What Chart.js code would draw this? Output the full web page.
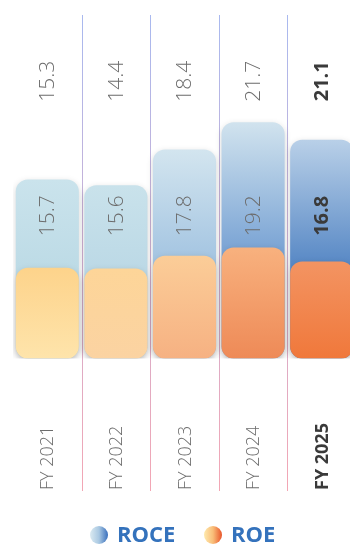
<!DOCTYPE html>
<html>
<head>
<meta charset="utf-8">
<script src="https://cdn.jsdelivr.net/npm/chart.js@4"></script>
<style>
    html, body { margin: 0; padding: 0; background: #fff; overflow: hidden; }
    #wrap { position: relative; width: 356px; height: 547px; }
    #legend {
        position: absolute; left: 0; top: 520px; width: 350px; height: 27px;
        font-family: "Open Sans", sans-serif;
        font-weight: 700; font-size: 22px; color: #3472bc; line-height: 26px;
    }
    #legend span.item { position: absolute; top: 0; white-space: nowrap; }
    #legend i {
        display: inline-block; width: 18px; height: 18px; border-radius: 50%;
        vertical-align: -2px; margin-right: 9px;
    }
</style>
</head>
<body>
<div id="wrap">
    <canvas id="returnsChart"></canvas>
    <div id="legend">
        <span class="item" style="left: 90px;"><i style="background: linear-gradient(90deg, #dbeaf1, #a9c8e2 50%, #396fbd);"></i>ROCE</span>
        <span class="item" style="left: 204px;"><i style="background: linear-gradient(90deg, #feeaae, #f9bd78 50%, #e8552a);"></i>ROE</span>
    </div>
</div>
<script>
var years = ['FY 2021', 'FY 2022', 'FY 2023', 'FY 2024', 'FY 2025'];
var roce = [15.3, 14.4, 18.4, 21.7, 21.1];
var roe = [15.7, 15.6, 17.8, 19.2, 16.8];

// gradient stops per year, getting stronger towards the latest year
var blueShades = [
    ['#cae3ec', '#bddbe6'],
    ['#c9e2eb', '#bcd9e6'],
    ['#d3e5ef', '#a6c6e2'],
    ['#d1e3ee', '#7ca5d5'],
    ['#b9d0e8', '#5a8ac6']
];
var orangeShades = [
    ['#fdd38b', '#fee4ab'],
    ['#fdd598', '#fbd3a2'],
    ['#fbcd98', '#f6b182'],
    ['#f8b17e', '#ee8a57'],
    ['#f39462', '#f0783b']
];
var latest = years.length - 1;

function barGradient(context, shades, fromValue, toValue) {
    var chart = context.chart;
    if (!chart.chartArea) {
        return shades[context.dataIndex][0];
    }
    var y = chart.scales.y;
    var g = chart.ctx.createLinearGradient(0, y.getPixelForValue(fromValue), 0, y.getPixelForValue(toValue));
    g.addColorStop(0, shades[context.dataIndex][0]);
    g.addColorStop(1, shades[context.dataIndex][1]);
    return g;
}

// soft shadow under the bars
var barShadow = {
    id: 'barShadow',
    beforeDatasetDraw: function (chart) {
        var ctx = chart.ctx;
        ctx.save();
        ctx.shadowColor = 'rgba(0, 0, 0, 0.16)';
        ctx.shadowBlur = 6;
        ctx.shadowOffsetY = 2;
    },
    afterDatasetDraw: function (chart) {
        chart.ctx.restore();
    }
};

// separators between years, drawn behind the bars
var separators = {
    id: 'separators',
    beforeDatasetsDraw: function (chart) {
        var ctx = chart.ctx;
        var x = chart.scales.x;
        var g = ctx.createLinearGradient(0, 15, 0, 491);
        g.addColorStop(0, '#a9b9ef');
        g.addColorStop(1, '#f3a6b4');
        ctx.save();
        ctx.strokeStyle = g;
        ctx.lineWidth = 1;
        for (var i = 0; i < years.length - 1; i++) {
            var px = Math.round((x.getPixelForValue(i) + x.getPixelForValue(i + 1)) / 2) + 0.5;
            ctx.beginPath();
            ctx.moveTo(px, 15);
            ctx.lineTo(px, 491);
            ctx.stroke();
        }
        ctx.restore();
    }
};

// rotated value labels and year labels
var rotatedLabels = {
    id: 'rotatedLabels',
    afterDatasetsDraw: function (chart) {
        var ctx = chart.ctx;
        var x = chart.scales.x;
        var y = chart.scales.y;
        var roceY = y.getPixelForValue(48);
        var roeY = y.getPixelForValue(24.7);

        function put(text, px, py, align, size, bold) {
            ctx.save();
            ctx.translate(px, py);
            ctx.rotate(-Math.PI / 2);
            ctx.textAlign = align;
            ctx.textBaseline = 'middle';
            ctx.font = (bold ? '700 ' : '300 ') + size + 'px "Open Sans", sans-serif';
            ctx.fillStyle = bold ? '#3a3a3a' : '#6c6c6c';
            ctx.fillText(text, 0, 0);
            ctx.restore();
        }

        for (var i = 0; i < years.length; i++) {
            var px = x.getPixelForValue(i) + 1;
            var bold = i === latest;
            put(roce[i].toFixed(1), px, roceY, 'center', bold ? 20 : 21, bold);
            put(roe[i].toFixed(1), px, roeY, 'center', bold ? 20 : 21, bold);
            put(years[i], px, 490, 'left', 18, bold);
        }
    }
};

var ctx = document.getElementById('returnsChart');
var myChart = new Chart(ctx, {
    type: 'bar',
    data: {
        labels: years,
        datasets: [{
            label: 'ROCE',
            // ROCE sits on top of ROE, the bar runs from zero up to the sum
            data: roce.map(function (v, i) { return roe[i] + v; }),
            order: 2,
            backgroundColor: function (context) {
                var i = context.dataIndex;
                return barGradient(context, blueShades, roe[i] + roce[i], roe[i]);
            },
            borderRadius: 12,
            borderSkipped: false,
            barPercentage: 0.92,
            categoryPercentage: 1
        }, {
            label: 'ROE',
            data: roe,
            order: 1,
            backgroundColor: function (context) {
                return barGradient(context, orangeShades, roe[context.dataIndex], 0);
            },
            borderRadius: 12,
            borderSkipped: false,
            barPercentage: 0.92,
            categoryPercentage: 1
        }]
    },
    options: {
        responsive: true,
        maintainAspectRatio: false,
        animation: false,
        layout: {
            padding: { left: 13, right: 0, top: 12, bottom: 188.5 }
        },
        datasets: {
            bar: { grouped: false }
        },
        scales: {
            x: { display: false },
            y: { display: false, min: 0, max: 60 }
        },
        plugins: {
            legend: { display: false },
            tooltip: { enabled: false }
        }
    },
    plugins: [separators, barShadow, rotatedLabels]
});
</script>
</body>
</html>
